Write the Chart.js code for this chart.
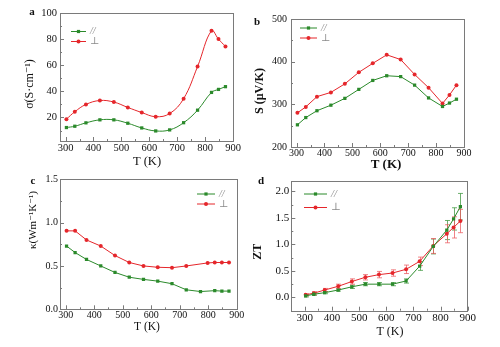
<!DOCTYPE html>
<html>
<head>
<meta charset="utf-8">
<script src="https://cdn.jsdelivr.net/npm/chart.js@4"></script>
<style>
    html, body { margin: 0; padding: 0; background: #fff; }
    #wrap { position: relative; width: 500px; height: 347px; overflow: hidden; }
    #wrap canvas { position: absolute; }
</style>
</head>
<body>
<div id="wrap">
    <canvas id="panelA" width="250" height="175" style="left:0;top:0"></canvas>
    <canvas id="panelB" width="250" height="175" style="left:250px;top:0"></canvas>
    <canvas id="panelC" width="250" height="177" style="left:0;top:170px"></canvas>
    <canvas id="panelD" width="250" height="177" style="left:250px;top:170px"></canvas>
</div>
<script>
// Températures de mesure (K)
const tempK = [303, 333, 373, 423, 473, 523, 573, 623, 673, 723, 773, 823, 848, 873];
const tempKappaPerp = [303, 333, 373, 423, 473, 523, 573, 623, 673, 723, 798, 823, 848, 873];

// a : conductivité électrique (S/cm)
const sigmaPar = [12.3, 13.3, 15.9, 18.2, 18.2, 15.6, 12.0, 9.7, 10.5, 16.0, 25.6, 39.2, 41.5, 43.6];
const sigmaPerp = [18.7, 24.4, 30.0, 33.0, 31.8, 27.7, 23.8, 20.6, 23.0, 34.4, 59.0, 86.4, 80.0, 74.4];

// b : coefficient Seebeck (µV/K)
const seebeckPar = [252, 269, 285, 298, 314, 335, 356, 367, 365, 345, 315, 295, 303, 312];
const seebeckPerp = [280, 294, 318, 328, 348, 375, 396, 416, 405, 370, 339, 302, 322, 345];

// c : conductivité thermique (W/m/K)
const kappaPar = [0.73, 0.655, 0.575, 0.50, 0.425, 0.37, 0.345, 0.325, 0.295, 0.225, 0.205, 0.215, 0.21, 0.21];
const kappaPerp = [0.905, 0.905, 0.80, 0.73, 0.62, 0.54, 0.50, 0.485, 0.48, 0.50, 0.535, 0.54, 0.54, 0.54];

// d : ZT et barres d'erreur
const ztPar = [0.03, 0.06, 0.09, 0.14, 0.20, 0.25, 0.25, 0.25, 0.31, 0.59, 0.96, 1.27, 1.48, 1.71];
const ztPerp = [0.05, 0.08, 0.14, 0.21, 0.30, 0.38, 0.43, 0.46, 0.53, 0.68, 0.97, 1.20, 1.32, 1.44];
const ztErrPar = [0.02, 0.02, 0.02, 0.02, 0.03, 0.03, 0.03, 0.03, 0.04, 0.08, 0.14, 0.18, 0.21, 0.25];
const ztErrPerp = [0.02, 0.03, 0.03, 0.04, 0.05, 0.05, 0.06, 0.06, 0.08, 0.08, 0.14, 0.17, 0.20, 0.22];

const labelPar = '//';
const labelPerp = '⊥';

const greenColor = '#2b8a2b';
const redColor = '#e5262b';
const serif = '"Liberation Serif", "DejaVu Serif", serif';

/**
 * Graduations tournées vers l'intérieur (majeures + mineures).
 */
function drawInnerTicks(ctx, scale, area, horizontal) {
    const vals = scale.ticks.map(t => t.value);
    if (vals.length < 2) return;
    const step = vals[1] - vals[0];
    ctx.beginPath();
    for (let k = -4; k < 200; k++) {
        const v = vals[0] + k * step / 2;
        if (v > scale.max + 1e-9) break;
        if (v < scale.min - 1e-9) continue;
        const len = (k % 2 === 0) ? 4 : 2;
        const p = Math.round(scale.getPixelForValue(v)) + 0.5;
        if (horizontal) {
            ctx.moveTo(p, area.bottom);
            ctx.lineTo(p, area.bottom - len);
        } else {
            ctx.moveTo(area.left, p);
            ctx.lineTo(area.left + len, p);
        }
    }
    ctx.stroke();
}

function drawMarker(ctx, style, color, x, y) {
    ctx.fillStyle = color;
    if (style === 'rect') {
        ctx.fillRect(x - 1.6, y - 1.6, 3.2, 3.2);
    } else {
        ctx.beginPath();
        ctx.arc(x, y, 2, 0, Math.PI * 2);
        ctx.fill();
    }
}

const decorPlugin = {
    id: 'decor',
    beforeDatasetsDraw(chart) {
        const { ctx, scales: { x, y } } = chart;
        chart.data.datasets.forEach((ds) => {
            if (!ds.errors) return;
            ctx.save();
            ctx.strokeStyle = ds.errorColor;
            ctx.lineWidth = 1;
            ds.data.forEach((pt, i) => {
                const px = Math.round(x.getPixelForValue(pt.x)) + 0.5;
                const yTop = y.getPixelForValue(pt.y + ds.errors[i]);
                const yBot = y.getPixelForValue(pt.y - ds.errors[i]);
                ctx.beginPath();
                ctx.moveTo(px, yTop); ctx.lineTo(px, yBot);
                ctx.moveTo(px - 2.5, yTop); ctx.lineTo(px + 2.5, yTop);
                ctx.moveTo(px - 2.5, yBot); ctx.lineTo(px + 2.5, yBot);
                ctx.stroke();
            });
            ctx.restore();
        });
    },
    afterDraw(chart, args, opts) {
        const { ctx, chartArea: area, scales: { x, y } } = chart;
        ctx.save();

        // cadre + graduations
        ctx.strokeStyle = opts.frameColor;
        ctx.lineWidth = 1;
        ctx.strokeRect(Math.round(area.left) + 0.5, Math.round(area.top) + 0.5,
            Math.round(area.width), Math.round(area.height));
        drawInnerTicks(ctx, x, area, true);
        drawInnerTicks(ctx, y, area, false);

        // titres des axes et lettre du panneau
        ctx.fillStyle = '#111';
        ctx.textAlign = 'center';
        ctx.textBaseline = 'middle';
        (opts.texts || []).forEach((t) => {
            ctx.save();
            ctx.font = t.font;
            ctx.translate(t.x, t.y);
            if (t.rotate) ctx.rotate(-Math.PI / 2);
            ctx.fillText(t.text, 0, 0);
            ctx.restore();
        });

        // légende
        const lg = opts.legend;
        if (lg) {
            chart.data.datasets.forEach((ds, i) => {
                const yy = lg.y + i * lg.dy;
                ctx.strokeStyle = ds.borderColor;
                ctx.lineWidth = 1;
                ctx.beginPath();
                ctx.moveTo(lg.x, yy);
                ctx.lineTo(lg.x + lg.len, yy);
                ctx.stroke();
                drawMarker(ctx, ds.pointStyle, ds.borderColor, lg.x + lg.len / 2, yy);
                ctx.fillStyle = '#8a8a8a';
                ctx.textAlign = 'left';
                ctx.font = (i === 0 ? 'italic ' : '') + lg.size + 'px ' + serif;
                ctx.fillText(ds.label, lg.x + lg.len + 4, yy);
            });
        }
        ctx.restore();
    }
};

function makeSeries(label, xs, ys, color, style, extra) {
    return Object.assign({
        label: label,
        data: xs.map((t, i) => ({ x: t, y: ys[i] })),
        borderColor: color,
        backgroundColor: color,
        borderWidth: 1,
        pointStyle: style,
        pointRadius: style === 'rect' ? 2.3 : 2,
        pointBorderWidth: 0,
        tension: 0
    }, extra || {});
}

/**
 * Construit un panneau (a, b, c ou d).
 */
function buildPanel(canvasId, datasets, cfg) {
    new Chart(document.getElementById(canvasId).getContext('2d'), {
        type: 'line',
        data: { datasets: datasets },
        options: {
            responsive: false,
            animation: false,
            layout: { padding: { left: 0, top: cfg.top, right: cfg.right, bottom: 0 } },
            scales: {
                x: {
                    type: 'linear',
                    min: cfg.xMin,
                    max: 900,
                    afterFit: (s) => { s.height = cfg.xHeight; },
                    grid: { display: false, drawTicks: false },
                    border: { display: false },
                    ticks: {
                        stepSize: 100,
                        includeBounds: false,
                        autoSkip: false,
                        maxRotation: 0,
                        padding: cfg.xPad,
                        color: '#111',
                        font: { family: serif, size: cfg.tickSize }
                    }
                },
                y: {
                    type: 'linear',
                    min: cfg.yMin,
                    max: cfg.yMax,
                    afterFit: (s) => { s.width = cfg.yWidth; },
                    grid: { display: false, drawTicks: false },
                    border: { display: false },
                    ticks: {
                        stepSize: cfg.yStep,
                        includeBounds: false,
                        autoSkip: false,
                        padding: cfg.yPad,
                        color: '#111',
                        font: { family: serif, size: cfg.tickSize },
                        callback: cfg.yFormat || ((v) => v)
                    }
                }
            },
            plugins: {
                legend: { display: false },
                tooltip: { enabled: false },
                decor: { frameColor: '#7a7a7a', texts: cfg.texts, legend: cfg.legend }
            }
        },
        plugins: [decorPlugin]
    });
}

const oneDecimal = (v) => v.toFixed(1);

buildPanel('panelA', [
    makeSeries(labelPar, tempK, sigmaPar, greenColor, 'rect', { tension: 0.4 }),
    makeSeries(labelPerp, tempK, sigmaPerp, redColor, 'circle', { tension: 0.4 })
], {
    top: 13, right: 17, yWidth: 60, xHeight: 34, xMin: 280, yMin: 2, yMax: 100, yStep: 20,
    xPad: 1, yPad: 3, tickSize: 10.5,
    legend: { x: 71, y: 31.5, dy: 10, len: 15, size: 10 },
    texts: [
        { text: 'a', x: 32, y: 12, font: 'bold 11px ' + serif },
        { text: 'σ(S·cm⁻¹)', x: 30, y: 84, rotate: true, font: '12px ' + serif },
        { text: 'T (K)', x: 147, y: 162, font: '12.5px ' + serif }
    ]
});

buildPanel('panelB', [
    makeSeries(labelPar, tempK, seebeckPar, greenColor, 'rect'),
    makeSeries(labelPerp, tempK, seebeckPerp, redColor, 'circle')
], {
    top: 19, right: 36, yWidth: 41, xHeight: 28, xMin: 280, yMin: 200, yMax: 500, yStep: 100,
    xPad: 0, yPad: 4, tickSize: 10,
    legend: { x: 50, y: 28, dy: 10, len: 17, size: 10 },
    texts: [
        { text: 'b', x: 7, y: 22, font: 'bold 11px ' + serif },
        { text: 'S (μV/K)', x: 10, y: 91, rotate: true, font: 'bold 12px ' + serif },
        { text: 'T (K)', x: 136, y: 165, font: 'bold 13px ' + serif }
    ]
});

buildPanel('panelC', [
    makeSeries(labelPar, tempK, kappaPar, greenColor, 'rect'),
    makeSeries(labelPerp, tempKappaPerp, kappaPerp, redColor, 'circle')
], {
    top: 9.3, right: 13.3, yWidth: 60, xHeight: 37.7, xMin: 280, yMin: 0, yMax: 1.5, yStep: 0.5,
    xPad: 0, yPad: 2, tickSize: 10, yFormat: oneDecimal,
    legend: { x: 197, y: 24, dy: 10, len: 18, size: 10 },
    texts: [
        { text: 'c', x: 33, y: 11, font: 'bold 11px ' + serif },
        { text: 'κ(Wm⁻¹K⁻¹)', x: 33, y: 50, rotate: true, font: '11px ' + serif },
        { text: 'T (K)', x: 147, y: 156.7, font: '11.5px ' + serif }
    ]
});

buildPanel('panelD', [
    makeSeries(labelPar, tempK, ztPar, greenColor, 'rect', { errors: ztErrPar, errorColor: 'rgba(60,150,60,0.75)' }),
    makeSeries(labelPerp, tempK, ztPerp, redColor, 'circle', { errors: ztErrPerp, errorColor: 'rgba(235,90,95,0.75)' })
], {
    top: 10.7, right: 32.3, yWidth: 41.3, xHeight: 36.3, xMin: 250, yMin: -0.25, yMax: 2.2, yStep: 0.5,
    xPad: 1, yPad: 2, tickSize: 11, yFormat: oneDecimal,
    legend: { x: 54, y: 24, dy: 13.5, len: 23, size: 10.5 },
    texts: [
        { text: 'd', x: 11, y: 11, font: 'bold 11px ' + serif },
        { text: 'ZT', x: 7.5, y: 81.7, rotate: true, font: 'bold 12px ' + serif },
        { text: 'T (K)', x: 140, y: 162.3, font: '12px ' + serif }
    ]
});
</script>
</body>
</html>
